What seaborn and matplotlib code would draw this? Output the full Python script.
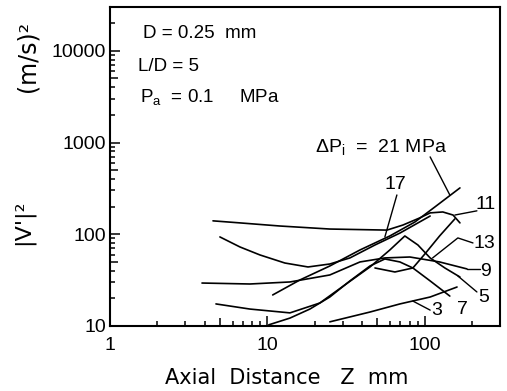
import numpy as np
import pandas as pd
import matplotlib
matplotlib.use("Agg")
import matplotlib.pyplot as plt
import seaborn as sns
from matplotlib.ticker import FixedLocator, FixedFormatter, NullFormatter

# ---------------- data ----------------
z_3 = [24.9, 44.8, 69.4, 108, 160]
v_3 = [11.1, 14.2, 17.4, 20.7, 26.6]

z_5 = [4.71, 7.74, 13.9, 21.5, 31.0, 44.8, 59.9, 74.6, 90.3, 108, 134, 167]
v_5 = [17.4, 15.3, 13.9, 17.8, 28.0, 44.0, 67.4, 95.8, 76.4, 55.2, 42.9, 34.2]

z_7 = [10.2, 13.9, 18.6, 24.9, 33.4, 44.8, 55.7, 69.4, 83.9, 108, 144]
v_7 = [10.3, 12.2, 15.3, 20.7, 31.0, 45.1, 53.8, 49.9, 42.9, 31.0, 21.2]

z_9 = [3.84, 7.74, 13.9, 24.9, 38.7, 55.7, 80.3, 124, 185]
v_9 = [29.4, 28.7, 30.2, 36.0, 49.9, 55.2, 56.5, 49.9, 41.9]

z_11 = [4.51, 6.69, 12.0, 24.9, 57.4, 72.5, 93.0, 108, 130, 151, 167]
v_11 = [140, 133, 123, 114, 111, 126, 151, 171, 175, 162, 133]

z_13 = [48.2, 64.5, 83.9, 100, 124, 155]
v_13 = [42.9, 38.8, 42.9, 61.0, 95.8, 147]

z_17 = [4.99, 6.69, 8.96, 12.9, 18.1, 24.9, 33.4, 48.2, 69.4, 108]
v_17 = [93.5, 72.7, 59.5, 48.6, 44.0, 47.4, 55.2, 76.4, 103, 158]

z_21 = [10.8, 16.1, 24.9, 38.7, 59.9, 86.4, 116, 167]
v_21 = [21.8, 31.8, 45.1, 67.4, 95.8, 136, 199, 320]

curve_names = ["3", "5", "7", "9", "11", "13", "17", "21"]
curve_z = [z_3, z_5, z_7, z_9, z_11, z_13, z_17, z_21]
curve_v = [v_3, v_5, v_7, v_9, v_11, v_13, v_17, v_21]

# curve labels and their positions (data coords)
label_text = ["3", "7", "5", "9", "13", "11", "17"]
label_z = [119, 172, 237, 244, 240, 244, 64.5]
label_v = [14.9, 15.3, 20.7, 38.8, 78.4, 209, 345]

# leader lines (data coords)
leaders = [
    ([108, 144], [697, 268]),            # 21
    ([66.4, 55.7], [268, 93.5]),         # 17
    ([214, 155], [180, 162]),            # 11
    ([202, 162, 112], [80.4, 91.2, 55.2]),  # 13
    ([223, 185], [41.9, 41.9]),          # 9
    ([214, 162], [23.5, 35.1]),          # 5
    ([108, 83.9], [14.9, 18.7]),         # 3
]

x_major = [1, 10, 100]
x_major_labels = ["1", "10", "100"]
y_major = [10, 100, 1000, 10000]
y_major_labels = ["10", "100", "1000", "10000"]

# ---------------- style ----------------
sns.set_theme(style="ticks")
plt.rcParams["font.family"] = ["Liberation Sans", "DejaVu Sans"]
fs = 14
fa = 13.5
plt.rcParams["mathtext.default"] = "regular"
plt.rcParams["text.color"] = "black"
plt.rcParams["xtick.color"] = "black"
plt.rcParams["ytick.color"] = "black"
plt.rcParams["xtick.labelcolor"] = "black"
plt.rcParams["ytick.labelcolor"] = "black"

df = pd.concat(
    [pd.DataFrame({"Z": z, "V": v, "curve": n}) for n, z, v in zip(curve_names, curve_z, curve_v)],
    ignore_index=True,
)

fig = plt.figure(figsize=(5.07, 3.91), dpi=100)
ax = fig.add_axes([110 / 507, 65 / 391, 390 / 507, 319 / 391])
ax.set_xscale("log")
ax.set_yscale("log")

sns.lineplot(data=df, x="Z", y="V", units="curve", estimator=None, sort=False,
             color="black", lw=1.2, ax=ax, legend=False)

for lz, lv in leaders:
    ax.plot(lz, lv, color="black", lw=1.0)

for t, lz, lv in zip(label_text, label_z, label_v):
    ax.text(lz, lv, t, ha="center", va="center", fontsize=fs, color="black")

ax.text(20.0, 895, r"$\Delta P_i$  =  21 MPa", ha="left", va="center", fontsize=fs, color="black")

ax.text(0.085, 0.918, "D = 0.25  mm", transform=ax.transAxes, ha="left", va="center",
        fontsize=fa, color="black")
ax.text(0.072, 0.812, "L/D = 5", transform=ax.transAxes, ha="left", va="center",
        fontsize=fa, color="black")
ax.text(0.077, 0.718, r"$P_a$  = 0.1     MPa", transform=ax.transAxes, ha="left", va="center",
        fontsize=fa, color="black")

ax.set_xlim(1, 300)
ax.set_ylim(10, 30000)

# ticks
x_minor = [m * d for d in [1, 10, 100] for m in range(2, 10) if m * d <= 300]
y_minor = [m * d for d in [10, 100, 1000, 10000] for m in range(2, 10) if m * d <= 30000]
ax.xaxis.set_major_locator(FixedLocator(x_major))
ax.xaxis.set_major_formatter(FixedFormatter(x_major_labels))
ax.xaxis.set_minor_locator(FixedLocator(x_minor))
ax.xaxis.set_minor_formatter(NullFormatter())
ax.yaxis.set_major_locator(FixedLocator(y_major))
ax.yaxis.set_major_formatter(FixedFormatter(y_major_labels))
ax.yaxis.set_minor_locator(FixedLocator(y_minor))
ax.yaxis.set_minor_formatter(NullFormatter())

ax.tick_params(axis="both", which="major", direction="in", length=7.5, width=1.1,
               labelsize=fs, color="black", labelcolor="black")
ax.tick_params(axis="both", which="minor", direction="in", length=3.5, width=1.1, color="black")
ax.tick_params(axis="x", which="major", pad=8)
ax.tick_params(axis="y", which="major", pad=3)
ax.tick_params(top=False, right=False, which="both")

# longer ticks at the 5s
for tick, loc in zip(ax.xaxis.get_minor_ticks(), x_minor):
    if str(loc).startswith("5"):
        tick.tick1line.set_markersize(6)
for tick, loc in zip(ax.yaxis.get_minor_ticks(), y_minor):
    if str(loc).startswith("5"):
        tick.tick1line.set_markersize(6)

for s in ax.spines.values():
    s.set_linewidth(1.5)
    s.set_color("black")

ax.set_xlabel("")
ax.set_ylabel("")
fig.text(287 / 507, 1 - 378 / 391, "Axial  Distance   Z  mm", ha="center", va="center",
         fontsize=15, color="black", family=["DejaVu Sans"])
fig.text(27 / 507, 1 - 56 / 391, "(m/s)²", rotation=90, ha="center", va="center",
         fontsize=17, color="black", family=["DejaVu Sans"])
fig.text(23 / 507, 1 - 222 / 391, "|V'|²", rotation=90, ha="center", va="center",
         fontsize=16, color="black", family=["DejaVu Sans"])

fig.savefig("out.png", dpi=100)
